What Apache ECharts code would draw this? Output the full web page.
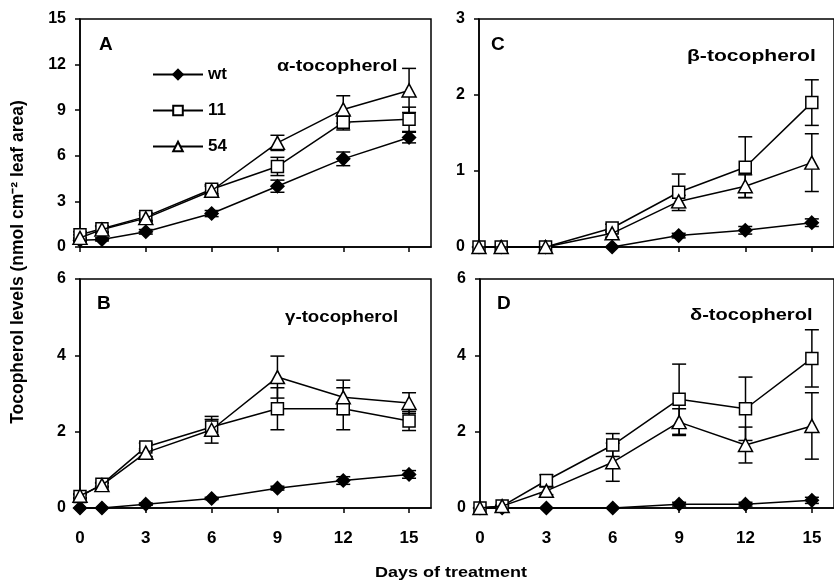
<!DOCTYPE html>
<html><head><meta charset="utf-8">
<script src="https://cdn.jsdelivr.net/npm/echarts@6/dist/echarts.min.js"></script>
<style>html,body{margin:0;padding:0;background:#fff}#c{width:834px;height:584px}</style>
</head><body><div id="c"></div>
<script>
var days = [0, 1, 3, 6, 9, 12, 15];
var xTicks = [0, 3, 6, 9, 12, 15];
var groups = ['wt', '11', '54'];

// Panel A: alpha-tocopherol
var alphaWt = [0.45, 0.5, 1.0, 2.2, 4.0, 5.8, 7.2];
var alphaWtErr = [0.1, 0.1, 0.15, 0.2, 0.4, 0.45, 0.35];
var alpha11 = [0.8, 1.2, 2.0, 3.8, 5.3, 8.2, 8.4];
var alpha11Err = [0.2, 0.2, 0.25, 0.3, 0.6, 0.5, 0.8];
var alpha54 = [0.6, 1.15, 1.9, 3.7, 6.85, 9.05, 10.3];
var alpha54Err = [0.2, 0.2, 0.2, 0.3, 0.5, 0.9, 1.45];

// Panel C: beta-tocopherol
var betaWt = [0, 0, 0, 0, 0.15, 0.22, 0.32];
var betaWtErr = [0, 0, 0, 0, 0.03, 0.05, 0.05];
var beta11 = [0, 0, 0, 0.25, 0.72, 1.05, 1.9];
var beta11Err = [0, 0, 0, 0.05, 0.24, 0.4, 0.3];
var beta54 = [0, 0, 0, 0.18, 0.6, 0.8, 1.11];
var beta54Err = [0, 0, 0, 0.05, 0.08, 0.15, 0.38];

// Panel B: gamma-tocopherol
var gammaWt = [0, 0, 0.1, 0.25, 0.52, 0.72, 0.88];
var gammaWtErr = [0, 0, 0.03, 0.03, 0.05, 0.1, 0.1];
var gamma11 = [0.3, 0.62, 1.6, 2.12, 2.6, 2.6, 2.28];
var gamma11Err = [0.05, 0.05, 0.1, 0.2, 0.55, 0.55, 0.25];
var gamma54 = [0.32, 0.6, 1.45, 2.05, 3.43, 2.9, 2.75];
var gamma54Err = [0.05, 0.05, 0.1, 0.35, 0.55, 0.45, 0.27];

// Panel D: delta-tocopherol
var deltaWt = [0, 0, 0, 0, 0.1, 0.1, 0.2];
var deltaWtErr = [0, 0, 0, 0, 0.05, 0.05, 0.08];
var delta11 = [0, 0.05, 0.72, 1.65, 2.85, 2.6, 3.92];
var delta11Err = [0, 0.02, 0.15, 0.3, 0.92, 0.83, 0.75];
var delta54 = [0, 0.05, 0.45, 1.2, 2.25, 1.65, 2.15];
var delta54Err = [0, 0.02, 0.1, 0.5, 0.35, 0.47, 0.87];

var yTicksA = [0, 3, 6, 9, 12, 15];
var yTicksC = [0, 1, 2, 3];
var yTicksBD = [0, 2, 4, 6];

var panels = [
  {letter: 'A', name: '\u03b1-tocopherol', vals: [alphaWt, alpha11, alpha54], errs: [alphaWtErr, alpha11Err, alpha54Err], yMax: 15, yTicks: yTicksA, labels: false,
   grid: {left: 80, top: 19, width: 351, height: 228}, letterPos: [99, 45], namePos: [277, 66], nameScale: 1.16},
  {letter: 'C', name: '\u03b2-tocopherol', vals: [betaWt, beta11, beta54], errs: [betaWtErr, beta11Err, beta54Err], yMax: 3, yTicks: yTicksC, labels: false,
   grid: {left: 479, top: 19, width: 364, height: 228}, letterPos: [491, 45], namePos: [687, 56], nameScale: 1.24},
  {letter: 'B', name: '\u03b3-tocopherol', vals: [gammaWt, gamma11, gamma54], errs: [gammaWtErr, gamma11Err, gamma54Err], yMax: 6, yTicks: yTicksBD, labels: true,
   grid: {left: 80, top: 279, width: 351, height: 229}, letterPos: [97, 304], namePos: [285, 317], nameScale: 1.1},
  {letter: 'D', name: '\u03b4-tocopherol', vals: [deltaWt, delta11, delta54], errs: [deltaWtErr, delta11Err, delta54Err], yMax: 6, yTicks: yTicksBD, labels: true,
   grid: {left: 480, top: 279, width: 364, height: 229}, letterPos: [497, 304], namePos: [690, 315], nameScale: 1.18}
];

var FONT = 'Liberation Sans, Arial, sans-serif';
var symbols = ['diamond', 'rect', 'triangle'];
var symSizes = [[13, 13], [12, 12], [14, 13]];
var fills = ['#000', '#fff', '#fff'];

var grids = [], xAxes = [], yAxes = [], series = [], graphics = [];

function errRender(params, api) {
  var x = api.value(0), y = api.value(1), e = api.value(2);
  if (!e) return null;
  var hi = api.coord([x, y + e]);
  var lo = api.coord([x, y - e]);
  var w = 7;
  var st = {stroke: '#000', lineWidth: 1.5};
  return {type: 'group', children: [
    {type: 'line', shape: {x1: hi[0], y1: hi[1], x2: lo[0], y2: lo[1]}, style: st},
    {type: 'line', shape: {x1: hi[0] - w, y1: hi[1], x2: hi[0] + w, y2: hi[1]}, style: st},
    {type: 'line', shape: {x1: lo[0] - w, y1: lo[1], x2: lo[0] + w, y2: lo[1]}, style: st}
  ]};
}

panels.forEach(function (p, i) {
  grids.push({left: p.grid.left, top: p.grid.top, width: p.grid.width, height: p.grid.height,
    show: true, borderColor: '#000', borderWidth: 1.5, backgroundColor: 'transparent'});
  xAxes.push({type: 'value', gridIndex: i, min: 0, max: 16,
    axisLine: {onZero: false, lineStyle: {color: '#000', width: 1.5}},
    axisTick: {inside: false, length: 5, lineStyle: {color: '#000', width: 1.5}, customValues: xTicks},
    axisLabel: {show: p.labels, customValues: xTicks, color: '#000', fontFamily: FONT, fontWeight: 'bold', fontSize: 17, margin: 22},
    splitLine: {show: false}});
  yAxes.push({type: 'value', gridIndex: i, min: 0, max: p.yMax,
    axisLine: {show: true, lineStyle: {color: '#000', width: 1.5}},
    axisTick: {show: true, inside: false, length: 5, lineStyle: {color: '#000', width: 1.5}, customValues: p.yTicks},
    axisLabel: {customValues: p.yTicks, color: '#000', fontFamily: FONT, fontWeight: 'bold', fontSize: 16, margin: 14},
    splitLine: {show: false}});
  for (var g = 0; g < 3; g++) {
    var errData = days.map(function (d, k) { return [d, p.vals[g][k], p.errs[g][k]]; });
    series.push({type: 'custom', name: 'err' + i + g, xAxisIndex: i, yAxisIndex: i, renderItem: errRender,
      data: errData, encode: {x: 0, y: 1}, z: 1, clip: false, silent: true});
  }
  for (var g2 = 0; g2 < 3; g2++) {
    var lineData = days.map(function (d, k) { return [d, p.vals[g2][k]]; });
    series.push({type: 'line', name: groups[g2], xAxisIndex: i, yAxisIndex: i, data: lineData,
      symbol: symbols[g2], symbolSize: symSizes[g2], showAllSymbol: true, clip: false, z: 3 + g2,
      lineStyle: {color: '#000', width: 1.5},
      itemStyle: {color: fills[g2], borderColor: '#000', borderWidth: 1.5},
      emphasis: {disabled: true}, animation: false});
  }
  graphics.push({type: 'text', x: p.letterPos[0], y: p.letterPos[1],
    style: {text: p.letter, font: 'bold 19px ' + FONT, fill: '#000', verticalAlign: 'middle'}});
  graphics.push({type: 'text', x: p.namePos[0], y: p.namePos[1], scaleX: p.nameScale,
    style: {text: p.name, font: 'bold 17px ' + FONT, fill: '#000', verticalAlign: 'middle'}});
});

graphics.push({type: 'text', x: 451, y: 573, scaleX: 1.2,
  style: {text: 'Days of treatment', font: 'bold 15px ' + FONT, fill: '#000', align: 'center', verticalAlign: 'middle'}});
graphics.push({type: 'text', x: 18, y: 262, rotation: Math.PI / 2,
  style: {text: 'Tocopherol levels (nmol cm\u207b\u00b2 leaf area)', font: 'bold 17.5px ' + FONT, fill: '#000', align: 'center', verticalAlign: 'middle'}});

var chart = echarts.init(document.getElementById('c'), null, {renderer: 'canvas'});
chart.setOption({
  animation: false,
  backgroundColor: '#fff',
  grid: grids,
  xAxis: xAxes,
  yAxis: yAxes,
  legend: {data: groups, orient: 'vertical', left: 152, top: 66, padding: 0, itemWidth: 50, itemHeight: 12, itemGap: 19,
    textStyle: {color: '#000', fontFamily: FONT, fontWeight: 'bold', fontSize: 17}, selectedMode: false},
  series: series,
  graphic: graphics
});
</script>
</body></html>
